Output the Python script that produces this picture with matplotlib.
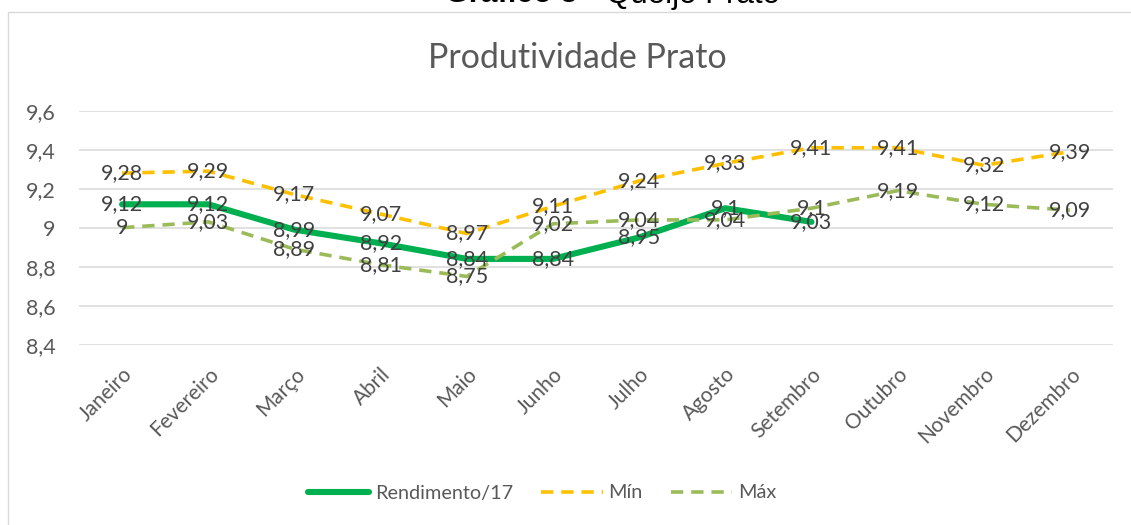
import numpy as np
import matplotlib
matplotlib.use("Agg")
import matplotlib.pyplot as plt
from matplotlib.patches import Rectangle

meses = ["Janeiro", "Fevereiro", "Março", "Abril", "Maio", "Junho", "Julho",
         "Agosto", "Setembro", "Outubro", "Novembro", "Dezembro"]
rendimento = [9.12, 9.12, 8.99, 8.92, 8.84, 8.84, 8.95, 9.1, 9.03,
              np.nan, np.nan, np.nan]
minimo = [9.28, 9.29, 9.17, 9.07, 8.97, 9.11, 9.24, 9.33, 9.41, 9.41, 9.32, 9.39]
maximo = [9.0, 9.03, 8.89, 8.81, 8.75, 9.02, 9.04, 9.04, 9.1, 9.19, 9.12, 9.09]
yticks = [8.4, 8.6, 8.8, 9.0, 9.2, 9.4, 9.6]

W, H = 1131, 525
FONT = "Lato"
GRAY = "#595959"
LBL = "#404040"


def fmt(v):
    s = f"{v:.2f}".rstrip("0").rstrip(".")
    return s.replace(".", ",")


fig = plt.figure(figsize=(W / 100, H / 100), dpi=100)
fig.patch.set_facecolor("white")

# chart border (top/left visible)
fig.patches.append(Rectangle((8 / W, -0.2), 1.5, 1.2 - 12 / H,
                             transform=fig.transFigure, fill=False,
                             edgecolor="#D9D9D9", linewidth=1.0))

# cut-off caption at top
fig.text(445 / W, 1 - 2.5 / H, "Gráfico 5", fontfamily="Liberation Sans",
         fontweight="bold", fontsize=22, ha="left", va="baseline", color="black")
fig.text(587 / W, 1 - 2.5 / H, "- Queijo Prato", fontfamily="Liberation Sans",
         fontsize=22.5, ha="left", va="baseline", color="black")

# chart title
fig.text(577 / W, 1 - 58 / H, "Produtividade Prato", fontfamily=FONT,
         fontsize=24.5, ha="center", va="center", color=GRAY)

left, right = 79 / W, 1113 / W
top, bottom = 1 - 110.7 / H, 1 - 344.7 / H
ax = fig.add_axes([left, bottom, right - left, top - bottom])
x = np.arange(len(meses))

ax.plot(x, rendimento, color="#00B050", lw=4.4, solid_capstyle="round",
        zorder=3, label="Rendimento/17")
ax.plot(x, minimo, color="#FFC000", lw=2.6, dashes=(3.4, 2.2),
        zorder=4, label="Mín")
ax.plot(x, maximo, color="#9BBB59", lw=2.6, dashes=(3.4, 2.2),
        zorder=5, label="Máx")

for series in (rendimento, minimo, maximo):
    for xi, v in zip(x, series):
        if np.isnan(v):
            continue
        ax.text(xi, v, fmt(v), ha="center", va="center", fontfamily=FONT,
                fontsize=15.5, color=LBL, zorder=10)

ax.set_xlim(-0.5, len(meses) - 0.5)
ax.set_ylim(8.4, 9.6)
ax.set_yticks(yticks)
ax.set_yticklabels([fmt(v) for v in yticks], fontfamily=FONT, fontsize=15.5,
                   color=GRAY)
ax.set_xticks(x)
ax.set_xticklabels(meses, rotation=45, ha="right", va="top",
                   rotation_mode="anchor", fontfamily=FONT, fontsize=15,
                   color=GRAY)
ax.tick_params(axis="y", length=0, pad=17)
ax.tick_params(axis="x", length=0, pad=14)
ax.grid(axis="y", color="#D9D9D9", lw=1.1)
ax.set_axisbelow(True)
for s in ax.spines.values():
    s.set_visible(False)
ax.set_facecolor("none")

handles, labels = ax.get_legend_handles_labels()
leg = fig.legend(handles, labels, loc="center", ncol=3, frameon=False,
                 bbox_to_anchor=(542 / W, 1 - 493 / H),
                 prop={"family": FONT, "size": 14.3}, labelcolor=GRAY,
                 handlelength=3.1, handletextpad=0.3, columnspacing=1.4)

fig.savefig("out.png", dpi=100, facecolor="white")
